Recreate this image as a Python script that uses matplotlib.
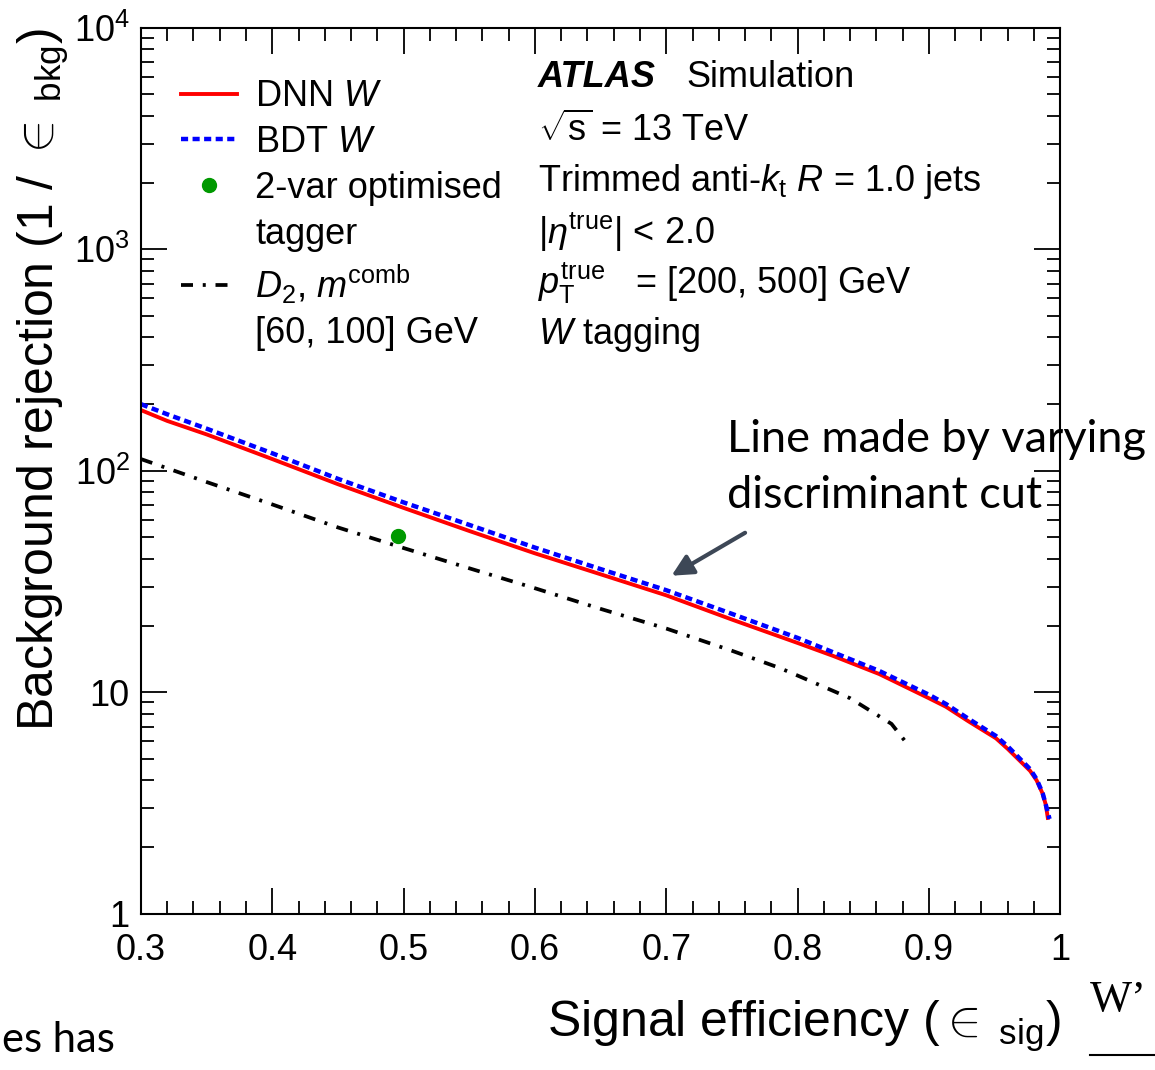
import numpy as np
import matplotlib
matplotlib.use("Agg")
import matplotlib.pyplot as plt
from matplotlib.lines import Line2D
from matplotlib.ticker import MultipleLocator, LogLocator, FixedLocator, FixedFormatter, NullFormatter

plt.rcParams['font.family'] = ['Liberation Sans', 'DejaVu Sans']
plt.rcParams['mathtext.fontset'] = 'custom'
plt.rcParams['mathtext.rm'] = 'Liberation Sans'
plt.rcParams['mathtext.it'] = 'Liberation Sans:italic'
plt.rcParams['mathtext.bf'] = 'Liberation Sans:bold'

# ─── ROC curves ───────────────────────────────────────────────────
dnn_eff = [0.30, 0.32, 0.35, 0.40, 0.45, 0.50, 0.55, 0.60, 0.65, 0.70,
           0.75, 0.80, 0.827, 0.862, 0.90, 0.913, 0.93, 0.951, 0.96,
           0.977, 0.982, 0.9866, 0.989, 0.9905]
dnn_rej = [188, 168, 146, 113, 87, 68, 53.5, 42.4, 34.1, 27.4,
           21.3, 16.7, 14.6, 12.1, 9.4, 8.6, 7.4, 6.2, 5.55,
           4.42, 4.0, 3.48, 3.1, 2.71]

bdt_eff = [0.30, 0.32, 0.35, 0.40, 0.45, 0.50, 0.55, 0.60, 0.65, 0.70,
           0.75, 0.80, 0.862, 0.90, 0.913, 0.93, 0.951, 0.96, 0.977,
           0.982, 0.9866, 0.989, 0.9918]
bdt_rej = [200, 180, 155, 120, 92, 72, 57, 45, 36, 28.9,
           22.6, 17.6, 12.5, 9.75, 8.85, 7.6, 6.35, 5.7, 4.5,
           4.05, 3.5, 3.1, 2.68]

d2_eff = [0.30, 0.35, 0.40, 0.45, 0.50, 0.55, 0.60, 0.65, 0.70, 0.75,
          0.786, 0.80, 0.84, 0.8715, 0.882]
d2_rej = [113, 89, 70.5, 55.5, 44.8, 36.3, 29.5, 23.8, 19.4, 15.4,
          12.9, 11.9, 9.4, 7.2, 6.0]

opt_eff = [0.496]
opt_rej = [51]

x_ticks = [0.3, 0.4, 0.5, 0.6, 0.7, 0.8, 0.9, 1.0]
x_ticklabels = ['0.3', '0.4', '0.5', '0.6', '0.7', '0.8', '0.9', '1']
y_ticks = [1, 10, 100, 1000, 10000]
y_ticklabels = ['1', '10', r'$10^{2}$', r'$10^{3}$', r'$10^{4}$']

info_lines = [r'$\sqrt{\rm s}$ = 13 TeV',
              r'Trimmed anti-$k_{\rm t}$ $R$ = 1.0 jets',
              r'|$\eta^{\rm true}$| < 2.0',
              r'$p_{\rm T}^{\rm true}$   = [200, 500] GeV',
              r'$W$ tagging']


def main():
    fig = plt.figure(figsize=(11.55, 10.7), dpi=100)
    ax = fig.add_axes([0.122, 0.146, 0.796, 0.828])

    h_dnn, = ax.plot(dnn_eff, dnn_rej, '-', color='#ff0000', lw=2.8)
    h_bdt, = ax.plot(bdt_eff, bdt_rej, color='#0000ff', lw=3.2,
                     linestyle=(0, (1.6, 1.0)))
    h_d2, = ax.plot(d2_eff, d2_rej, color='black', lw=2.7,
                    linestyle=(0, (3.2, 2.6, 0.8, 2.6)))
    h_opt, = ax.plot(opt_eff, opt_rej, 'o', color='#009900', markersize=10,
                     linestyle='none')

    ax.set_xlim(0.3, 1.0)
    ax.set_yscale('log')
    ax.set_ylim(1, 1e4)

    ax.xaxis.set_major_locator(FixedLocator(x_ticks))
    ax.xaxis.set_major_formatter(FixedFormatter(x_ticklabels))
    ax.xaxis.set_minor_locator(MultipleLocator(0.02))
    ax.yaxis.set_major_locator(FixedLocator(y_ticks))
    ax.yaxis.set_major_formatter(FixedFormatter(y_ticklabels))
    ax.yaxis.set_minor_locator(LogLocator(base=10, subs=np.arange(2, 10)))
    ax.yaxis.set_minor_formatter(NullFormatter())

    ax.tick_params(which='both', direction='in', top=True, right=True,
                   width=1.3, labelsize=26)
    ax.tick_params(which='major', length=19)
    ax.tick_params(which='minor', length=9.5)
    ax.tick_params(axis='x', pad=14)
    ax.tick_params(axis='y', pad=8)
    for s in ax.spines.values():
        s.set_linewidth(1.5)

    ax.set_xlabel(r'Signal efficiency ($\in_{\ \rm sig}$)', fontsize=36,
                  loc='right', labelpad=22)
    ax.set_ylabel(r'Background rejection (1 / $\in_{\ \rm bkg}$)', fontsize=36,
                  loc='top', labelpad=2)

    # legend, continuation lines get an empty handle
    blank = Line2D([], [], color='none')
    ax.legend([h_dnn, h_bdt, h_opt, blank, h_d2, blank],
              [r'DNN $W$', r'BDT $W$', '2-var optimised', 'tagger',
               r'$D_{2}$, $m^{\rm comb}$', '[60, 100] GeV'],
              loc='upper left', bbox_to_anchor=(0.044, 0.942),
              frameon=False, fontsize=26, handlelength=1.55,
              handletextpad=0.5, labelspacing=0.3, borderpad=0,
              borderaxespad=0)

    # ATLAS label block
    ax.text(0.432, 0.9436, 'ATLAS', transform=ax.transAxes, fontsize=26,
            fontweight='bold', fontstyle='italic', va='center')
    ax.text(0.593, 0.9436, 'Simulation', transform=ax.transAxes,
            fontsize=26, va='center')
    for i, line in enumerate(info_lines):
        ax.text(0.432, 0.884 - i * 0.0575, line, transform=ax.transAxes,
                fontsize=26, va='center')

    # slide annotation
    ax.annotate('', xy=(0.704, 33.6), xytext=(0.760, 52.5),
                arrowprops=dict(arrowstyle='-|>', color='#3d4756', lw=3,
                                mutation_scale=32, shrinkA=0, shrinkB=0))
    fig.text(0.6294, 1 - 440 / 1070, 'Line made by varying', family='Lato',
             fontsize=32.5, va='center')
    fig.text(0.6294, 1 - 495 / 1070, 'discriminant cut', family='Lato',
             fontsize=32.5, va='center')

    # cropped fragments of the surrounding slide
    fig.text(0.002, 1 - 1040 / 1070, 'es has', family='Lato',
             fontsize=30, ha='left', va='center')
    fig.text(1090 / 1155, 1 - 1000 / 1070, "W’", family='Liberation Serif',
             fontsize=32, va='center')
    fig.add_artist(Line2D([1090 / 1155, 1.0], [1 - 1055 / 1070] * 2,
                          transform=fig.transFigure, color='black', lw=1.5))

    fig.savefig('out.png', dpi=100)
    plt.close(fig)


if __name__ == "__main__":
    main()
